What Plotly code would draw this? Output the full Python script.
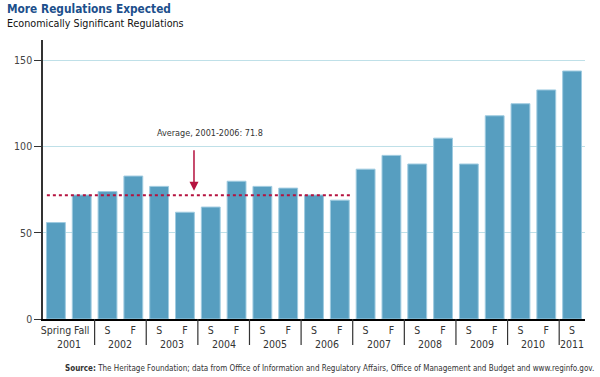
import plotly.graph_objects as go

# ---- data ----
period_labels = ["Spring", "Fall", "S", "F", "S", "F", "S", "F", "S", "F", "S", "F",
                 "S", "F", "S", "F", "S", "F", "S", "F", "S"]
year_labels = ["2001", "2002", "2003", "2004", "2005", "2006",
               "2007", "2008", "2009", "2010", "2011"]
values = [56, 72, 74, 83, 77, 62, 65, 80, 77, 76, 72, 69,
          87, 95, 90, 105, 90, 118, 125, 133, 144]
average_value = 71.8
average_label = "Average, 2001-2006: 71.8"
y_ticks = [0, 50, 100, 150]

FONT = "DejaVu Sans Condensed, Liberation Sans, sans-serif"
BAR = "#579ec0"
BAR_EDGE = "#9fcbe0"
GRID = "#bfe0e8"
RED = "#b5123f"

def f(size, color="#333333"):
    return dict(family=FONT, size=size, color=color)

x_idx = list(range(len(values)))
PW, PH = 542, 279  # plot area pixels

fig = go.Figure()
fig.add_trace(go.Bar(
    x=x_idx, y=values,
    marker=dict(color=BAR, line=dict(color=BAR_EDGE, width=1)),
    hoverinfo="skip", showlegend=False,
))

# average dotted line
fig.add_trace(go.Scatter(
    x=[-0.35, 11.4], y=[average_value, average_value], mode="lines",
    line=dict(color=RED, width=2, dash="dot"), hoverinfo="skip", showlegend=False,
))

fig.update_layout(
    width=600, height=377,
    margin=dict(l=43, r=15, t=40, b=58, autoexpand=False),
    paper_bgcolor="white", plot_bgcolor="white",
    bargap=0.27,
    font=f(10.5),
    xaxis=dict(
        range=[-0.5, len(values) - 0.5],
        tickmode="array", tickvals=x_idx, ticktext=period_labels,
        tickangle=0, automargin=False,
        showgrid=False, zeroline=False,
        showline=True, linecolor="black", linewidth=2,
        ticks="", tickfont=f(10.5),
    ),
    yaxis=dict(
        range=[0, 162], automargin=False,
        tickmode="array", tickvals=y_ticks,
        showgrid=True, gridcolor=GRID, gridwidth=1,
        zeroline=False,
        showline=True, linecolor="#333333", linewidth=1.5,
        ticks="outside", ticklen=7, tickcolor="#333333",
        tickfont=f(10.5, "#444444"),
    ),
)

# year labels and separators
for i, yr in enumerate(year_labels):
    cx = 2 * i + 0.5 if i < len(year_labels) - 1 else 2 * i
    fig.add_annotation(x=cx, y=0, xref="x", yref="paper", text=yr,
                       showarrow=False, yanchor="top", yshift=-17, font=f(10.5))
for i in range(1, len(year_labels)):
    xs = 2 * i - 0.5
    fig.add_shape(type="line", xref="x", yref="paper", x0=xs, x1=xs,
                  y0=0, y1=-26 / PH, line=dict(color="#333333", width=1.2))

# average annotation
fig.add_annotation(x=5.97, y=108, xref="x", yref="y", text=average_label,
                   showarrow=False, font=f(9))
fig.add_annotation(x=5.35, y=74.5, xref="x", yref="y", text=" ",
                   showarrow=True, arrowhead=2, arrowsize=1.2, arrowwidth=1.5,
                   arrowcolor=RED, ax=0, ay=-48)

# title / subtitle / source  (pixel positions converted to paper units)
def px_x(px):
    return (px - 43) / PW

def px_y(py):
    return (319 - py) / PH

fig.add_annotation(x=px_x(5), y=px_y(9), xref="paper", yref="paper",
                   xanchor="left", yanchor="middle", showarrow=False,
                   text="<b>More Regulations Expected</b>", font=f(11.8, "#1c4f8c"))
fig.add_annotation(x=px_x(5), y=px_y(24), xref="paper", yref="paper",
                   xanchor="left", yanchor="middle", showarrow=False,
                   text="Economically Significant Regulations", font=f(10.7, "#111111"))
fig.add_annotation(x=px_x(596), y=px_y(368), xref="paper", yref="paper",
                   xanchor="right", yanchor="middle", showarrow=False,
                   text="<b>Source:</b> The Heritage Foundation; data from Office of Information and Regulatory Affairs, Office of Management and Budget and www.reginfo.gov.",
                   font=f(8))

fig.write_html("out.html", config={"displayModeBar": False},
               post_script="document.body.style.margin='0px';")
